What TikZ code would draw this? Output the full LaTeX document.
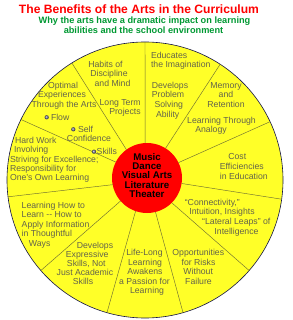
\documentclass[tikz,border=0pt]{standalone}
\usepackage{fontspec}
\setmainfont{Liberation Sans}
\definecolor{yellowc}{RGB}{255,255,40}
\definecolor{redc}{RGB}{255,0,0}
\definecolor{greenc}{RGB}{0,153,51}
\definecolor{txtc}{RGB}{100,100,75}
\definecolor{linec}{RGB}{110,110,50}
\definecolor{borderc}{RGB}{20,20,70}
\definecolor{ballc}{RGB}{110,110,140}
\begin{document}
\begin{tikzpicture}[x=1pt,y=-1pt,
  lbl/.style={font=\fontsize{8.7}{9.4}\selectfont, text=txtc, inner sep=0pt, outer sep=0pt, text height=6.2pt, text depth=0pt},
  divider/.style={draw=linec, line width=0.45pt},
  bullet/.style={circle, inner sep=0pt, minimum size=4.2pt, shading=ball, ball color=ballc},
  disc/.style={circle, inner sep=0pt, outer sep=0pt}]
\useasboundingbox (0,0) rectangle (292,320);
\fill[white] (0,0) rectangle (292,320);

% title
\node[inner sep=0pt, font=\bfseries\fontsize{12.1}{14}\selectfont, text=redc, text height=8.6pt, text depth=0pt] (title) at (139,9) {The Benefits of the Arts in the Curriculum};
\node[inner sep=0pt, font=\bfseries\fontsize{9.2}{11}\selectfont, text=greenc, text height=6.6pt, text depth=0pt] (sub1) at (144.5,20) {Why the arts have a dramatic impact on learning};
\node[inner sep=0pt, font=\bfseries\fontsize{9.2}{11}\selectfont, text=greenc, text height=6.6pt, text depth=0pt] (sub2) at (143.5,30) {abilities and the school environment};

% discs
\node[disc, minimum size=276pt, fill=yellowc, draw=borderc, line width=0.6pt] (oc) at (145,180) {};
\node[disc, minimum size=70pt, fill=redc] (rc) at (147,178) {};

% dividers
\draw[divider] (rc.126) -- (oc.122);
\draw[divider] (rc.153) -- (oc.154.5);
\draw[divider] (rc.191) -- (oc.187);
\draw[divider] (rc.221) -- (oc.221);
\draw[divider] (rc.251) -- (oc.254);
\draw[divider] (rc.284) -- (oc.286);
\draw[divider] (rc.315) -- (oc.319);
\draw[divider] (rc.351) -- (oc.352.6);
\draw[divider] (rc.26) -- (oc.25.3);
\draw[divider] (rc.58) -- (oc.57);
\draw[divider] (rc.93) -- (oc.90);

% centre
\node[inner sep=0pt, font=\bfseries\fontsize{9.7}{9.3}\selectfont, align=center, text=black] (ctr) at (147,175.5) {Music\\Dance\\Visual Arts\\Literature\\Theater};

% Habits of Discipline
\node[lbl] (hab1) at (105.5,64) {Habits of};
\node[lbl] (hab2) at (109,73.5) {Discipline};
\node[lbl] (hab3) at (112.5,83) {and Mind};
\node[lbl, anchor=east] (lt1) at (140.7,102.3) {Long Term};
\node[lbl, anchor=east] (lt2) at (140.7,111.7) {Projects};

% Optimal experiences
\node[lbl] (op1) at (63,85) {Optimal};
\node[lbl] (op2) at (62,94.5) {Experiences};
\node[lbl] (op3) at (64,104) {Through the Arts};
\node[bullet] (b1) at (46.7,117.3) {};
\node[lbl, anchor=west] (flow) at (51,117.3) {Flow};
\node[bullet] (b2) at (73.3,129.3) {};
\node[lbl, anchor=west] (self) at (78,129.3) {Self};
\node[lbl] (conf) at (89,138.3) {Confidence};
\node[bullet] (b3) at (94,151.7) {};
\node[lbl, anchor=west] (skills) at (96.7,151.7) {Skills};

% Hard work
\node[lbl, anchor=west] (hw1) at (15,140) {Hard Work};
\node[lbl, anchor=west] (hw2) at (14,149.3) {Involving};
\node[lbl, anchor=west] (hw3) at (10,159) {Striving for Excellence;};
\node[lbl, anchor=west] (hw4) at (10,168.3) {Responsibility for};
\node[lbl, anchor=west] (hw5) at (10,177.6) {One's Own Learning};

% Learning how to learn
\node[lbl, anchor=west] (lh1) at (21.7,205) {Learning How to};
\node[lbl, anchor=west] (lh2) at (21.7,214.3) {Learn -{}- How to};
\node[lbl, anchor=west] (lh3) at (21.7,224) {Apply Information};
\node[lbl, anchor=west] (lh4) at (21.7,233.3) {in Thoughtful};
\node[lbl] (lh5) at (39.7,243.3) {Ways};

% Develops expressive
\node[lbl] (de1) at (95,245.5) {Develops};
\node[lbl] (de2) at (87.2,254.5) {Expressive};
\node[lbl] (de3) at (86.3,263.3) {Skills, Not};
\node[lbl] (de4) at (85,272.3) {Just Academic};
\node[lbl] (de5) at (83,281.5) {Skills};

% Life-long
\node[lbl] (ll1) at (144.5,252.7) {Life-Long};
\node[lbl] (ll2) at (145,262.3) {Learning};
\node[lbl] (ll3) at (145,271.7) {Awakens};
\node[lbl] (ll4) at (144.5,281) {a Passion for};
\node[lbl] (ll5) at (147,290.7) {Learning};

% Opportunities
\node[lbl] (or1) at (198.3,252.7) {Opportunities};
\node[lbl] (or2) at (198.5,262) {for Risks};
\node[lbl] (or3) at (198.2,271.7) {Without};
\node[lbl] (or4) at (198.5,281) {Failure};

% Connectivity
\node[lbl] (cn1) at (212.3,202.7) {``Connectivity,''};
\node[lbl] (cn2) at (222,211.7) {Intuition, Insights};
\node[lbl] (cn3) at (236.3,221.7) {``Lateral Leaps'' of};
\node[lbl] (cn4) at (236.5,231) {Intelligence};

% Cost efficiencies
\node[lbl] (ce1) at (237.3,156.7) {Cost};
\node[lbl] (ce2) at (241.8,166.7) {Efficiencies};
\node[lbl] (ce3) at (243.8,176) {in Education};

% Learning through analogy
\node[lbl] (la1) at (221.5,120.7) {Learning Through};
\node[lbl] (la2) at (211,129.3) {Analogy};

% Memory
\node[lbl] (mr1) at (226,85) {Memory};
\node[lbl] (mr2) at (226,94.3) {and};
\node[lbl] (mr3) at (226,104) {Retention};

% Develops problem solving
\node[lbl] (dp1) at (170,85) {Develops};
\node[lbl] (dp2) at (168,94.3) {Problem};
\node[lbl] (dp3) at (168.8,104) {Solving};
\node[lbl] (dp4) at (167.7,114) {Ability};

% Educates
\node[lbl, anchor=west] (ed1) at (151,55) {Educates};
\node[lbl, anchor=west] (ed2) at (151,64.3) {the Imagination};
\end{tikzpicture}
\end{document}
